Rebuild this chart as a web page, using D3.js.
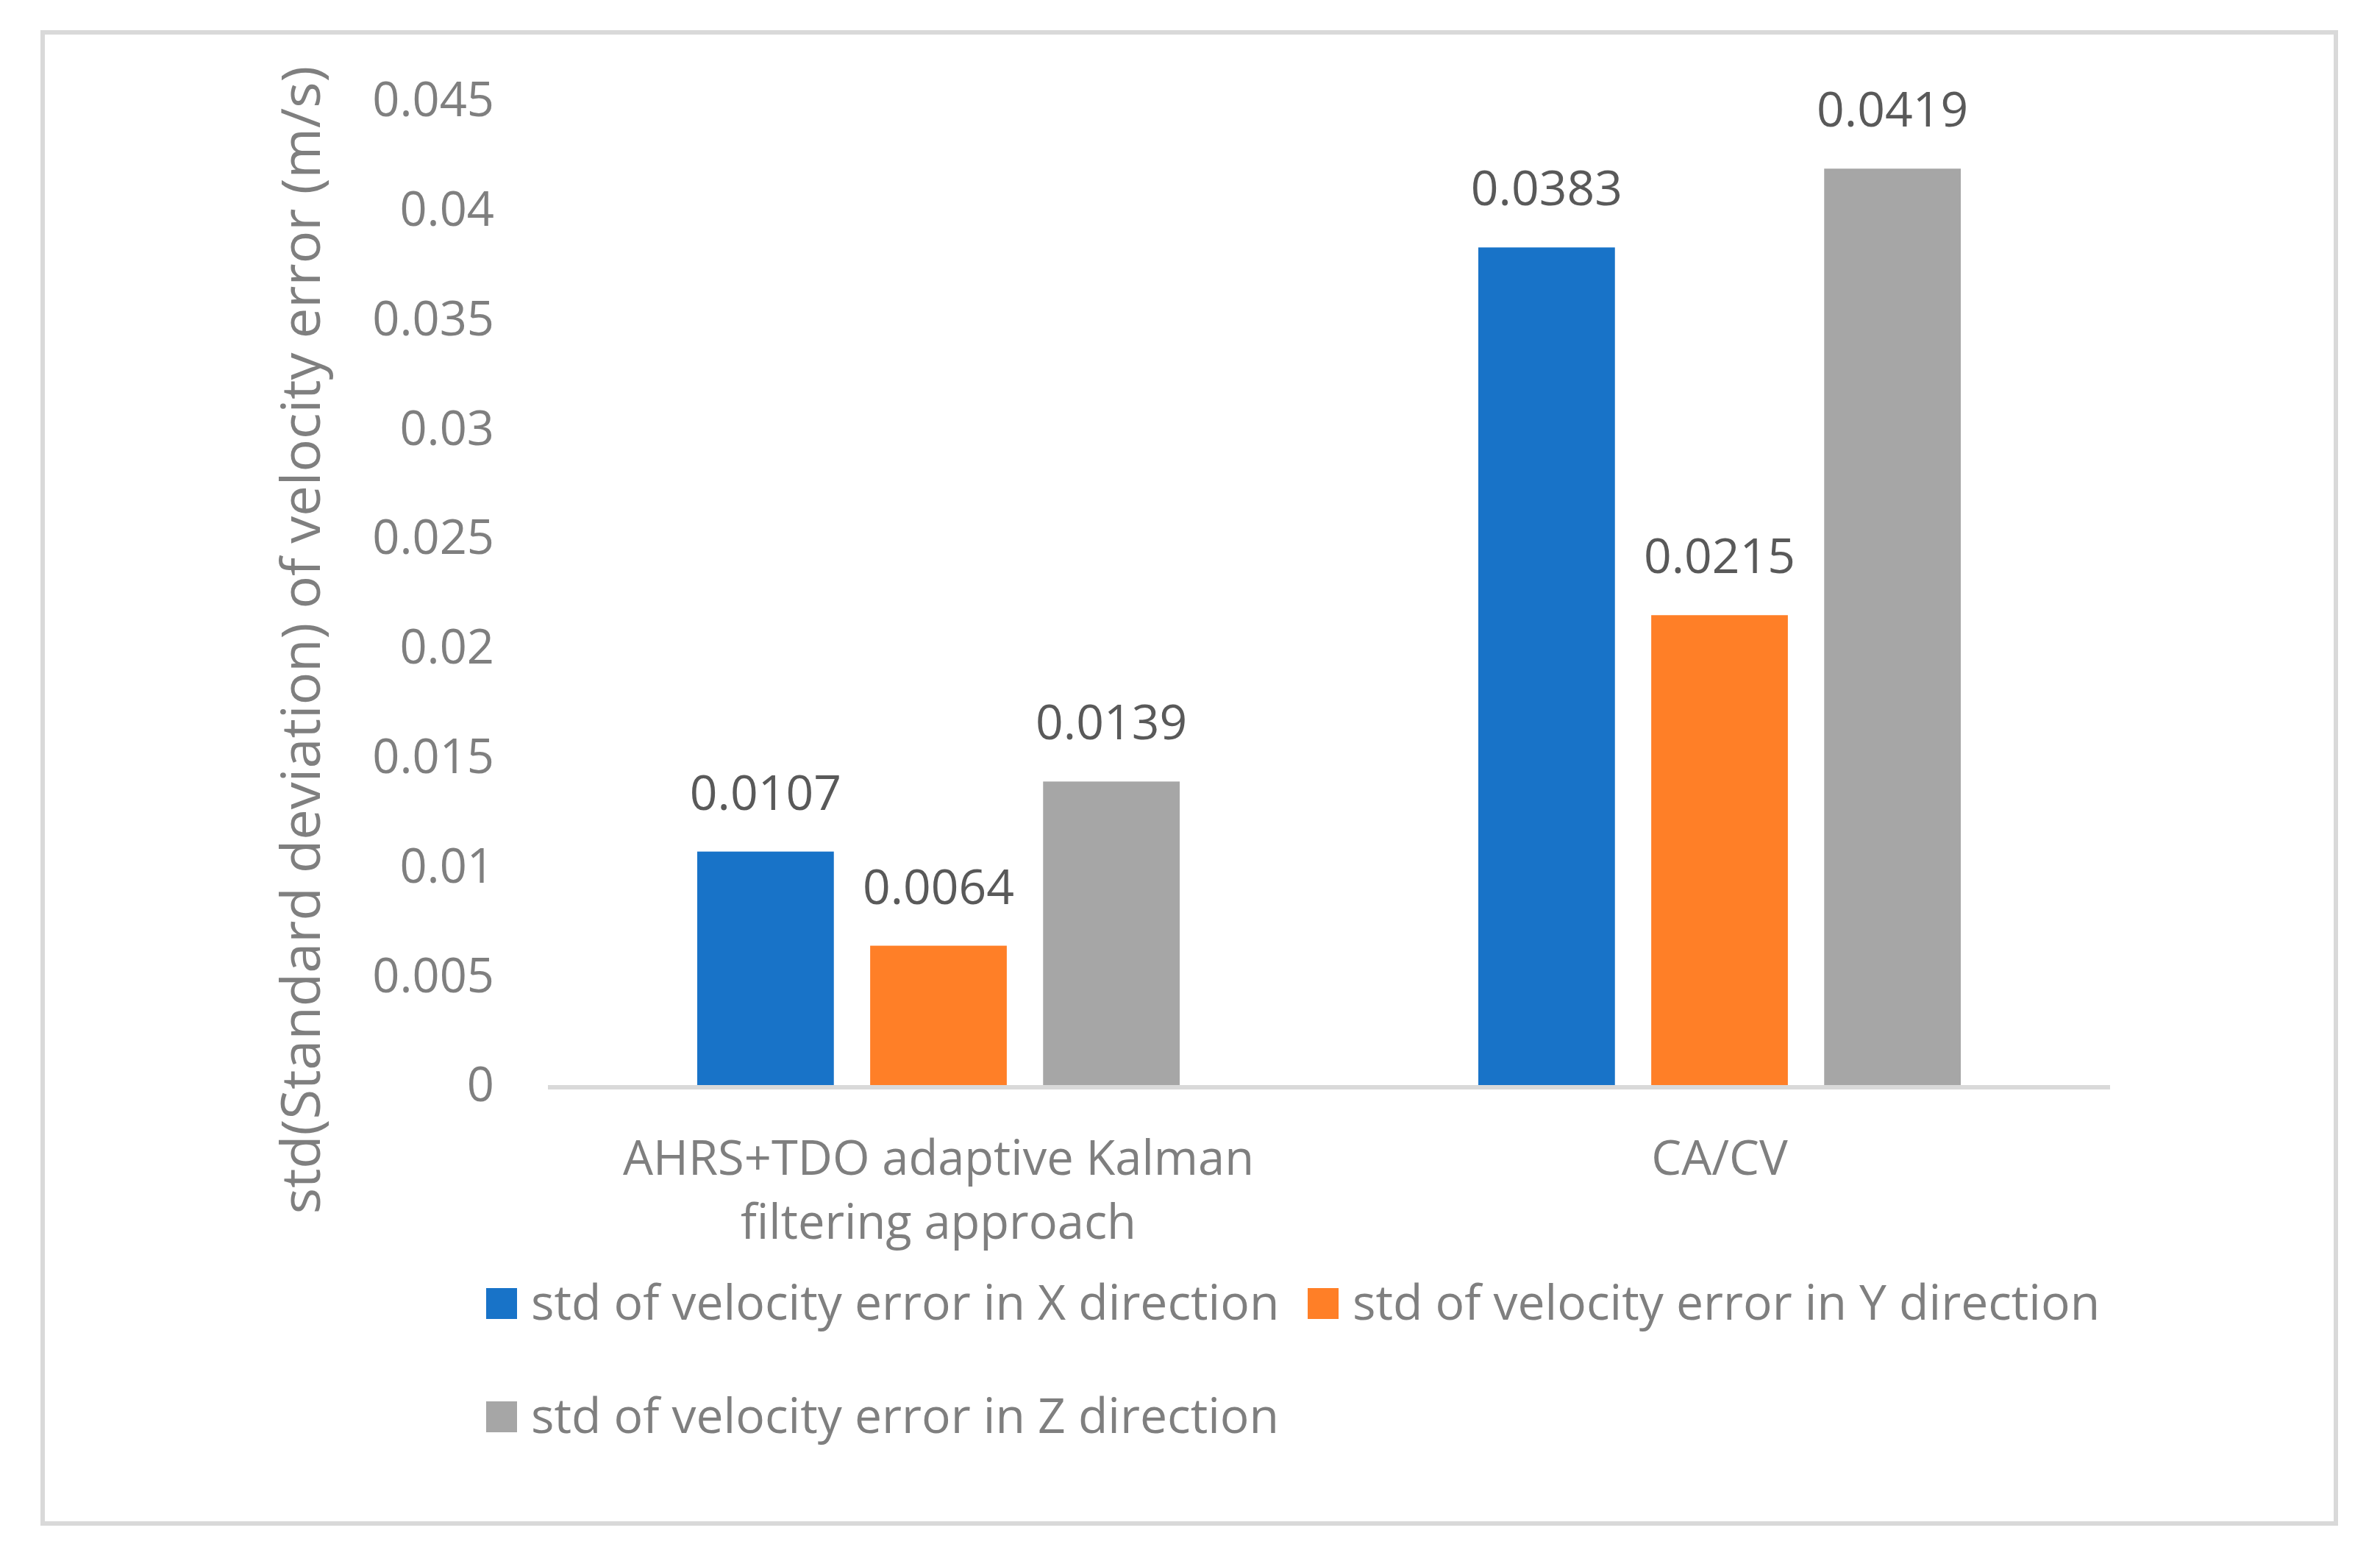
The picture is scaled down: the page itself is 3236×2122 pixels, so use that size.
<!DOCTYPE html>
<html>
<head>
<meta charset="utf-8">
<script src="https://cdn.jsdelivr.net/npm/d3@7"></script>
<style>
  body { margin: 0; background: #fff; }
  text { font-family: "Open Sans", sans-serif; }
</style>
</head>
<body>
<div class="chart"></div>
<script>
// data
const categories = ['AHRS+TDO adaptive Kalman filtering approach', 'CA/CV'];
const categoryLines = [['AHRS+TDO adaptive Kalman', 'filtering approach'], ['CA/CV']];
const seriesNames = [
  'std of velocity error in X direction',
  'std of velocity error in Y direction',
  'std of velocity error in Z direction'
];
const xValues = [0.0107, 0.0383];
const yValues = [0.0064, 0.0215];
const zValues = [0.0139, 0.0419];
const yTicks = [0, 0.005, 0.01, 0.015, 0.02, 0.025, 0.03, 0.035, 0.04, 0.045];
const colors = ['#1873c8', '#ff7f27', '#a6a6a6'];

const series = [xValues, yValues, zValues];

const W = 3236, H = 2122;
const svg = d3.select('.chart').append('svg')
    .attr('width', W)
    .attr('height', H);

// outer frame
svg.append('rect')
    .attr('x', 58).attr('y', 44)
    .attr('width', 3118).attr('height', 2027)
    .attr('fill', 'white')
    .attr('stroke', '#d9d9d9')
    .attr('stroke-width', 6);

const plotLeft = 745, plotRight = 2869, plotTop = 137, plotBottom = 1476;

const y = d3.scaleLinear().domain([0, 0.045]).range([plotBottom, plotTop]);
const x0 = d3.scaleBand().domain(categories).range([plotLeft, plotRight]);
const x1 = d3.scaleBand().domain(d3.range(3)).range([-328, 328]).paddingInner(0.21);

// y tick labels
const yAxis = d3.axisLeft(y).tickValues(yTicks).tickSize(0).tickPadding(0)
    .tickFormat(d => d === 0 ? '0' : String(+d.toFixed(3)));
const ya = svg.append('g')
    .attr('transform', `translate(${plotLeft - 73},0)`)
    .call(yAxis);
ya.select('.domain').remove();
ya.selectAll('text')
    .attr('fill', '#7f7f7f')
    .attr('font-size', 65)
    .attr('font-family', '"Open Sans", sans-serif');

// bars
const groups = svg.selectAll('.grp')
    .data(categories)
    .join('g')
    .attr('class', 'grp')
    .attr('transform', d => `translate(${x0(d) + x0.bandwidth() / 2},0)`);

groups.each(function (cat, ci) {
  const g = d3.select(this);
  series.forEach((vals, si) => {
    const v = vals[ci];
    g.append('rect')
        .attr('x', x1(si))
        .attr('y', y(v))
        .attr('width', x1.bandwidth())
        .attr('height', y(0) - y(v))
        .attr('fill', colors[si]);
    g.append('text')
        .attr('x', x1(si) + x1.bandwidth() / 2)
        .attr('y', y(v) - 57)
        .attr('text-anchor', 'middle')
        .attr('fill', '#595959')
        .attr('font-size', 66)
        .text(v);
  });
});

// x axis line
svg.append('line')
    .attr('x1', plotLeft).attr('x2', plotRight)
    .attr('y1', y(0) + 2).attr('y2', y(0) + 2)
    .attr('stroke', '#d9d9d9')
    .attr('stroke-width', 6);

// category labels
categories.forEach((c, i) => {
  const t = svg.append('text')
      .attr('text-anchor', 'middle')
      .attr('fill', '#7f7f7f')
      .attr('font-size', 65);
  categoryLines[i].forEach((ln, k) => {
    t.append('tspan')
        .attr('x', x0(c) + x0.bandwidth() / 2)
        .attr('y', 1597 + k * 87)
        .text(ln);
  });
});

// y axis title
svg.append('text')
    .attr('transform', 'translate(435,870) rotate(-90)')
    .attr('text-anchor', 'middle')
    .attr('fill', '#7f7f7f')
    .attr('font-size', 74)
    .text('std(Standard deviation) of velocity error (m/s)');

// legend
const legendPos = [[661, 1772], [1778, 1772], [661, 1926]];
seriesNames.forEach((name, i) => {
  const [lx, ly] = legendPos[i];
  svg.append('rect')
      .attr('x', lx).attr('y', ly - 21)
      .attr('width', 42).attr('height', 42)
      .attr('fill', colors[i]);
  svg.append('text')
      .attr('x', lx + 61)
      .attr('y', ly + 22)
      .attr('fill', '#7f7f7f')
      .attr('font-size', 66)
      .text(name);
});
</script>
</body>
</html>
